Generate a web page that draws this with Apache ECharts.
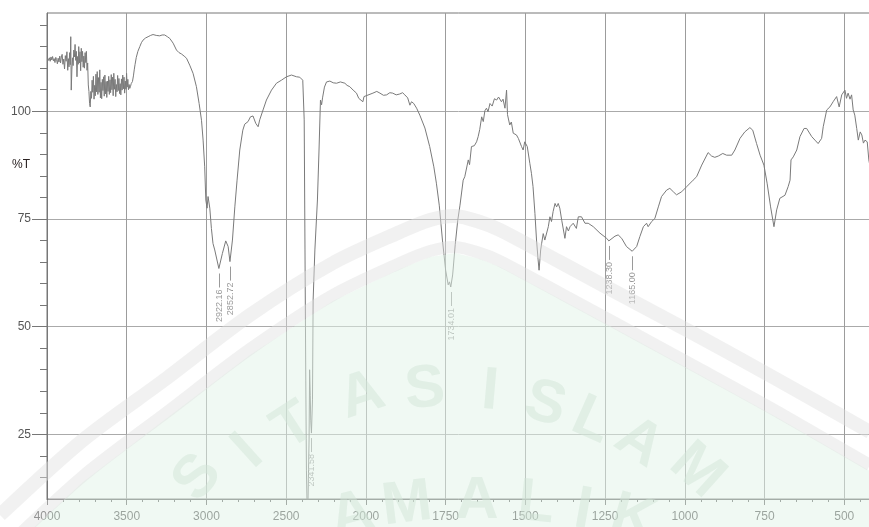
<!DOCTYPE html>
<html>
<head>
<meta charset="utf-8">
<title>FTIR spectrum</title>
<script src="https://cdn.jsdelivr.net/npm/echarts@6/dist/echarts.min.js"></script>
<style>
  html, body { margin: 0; padding: 0; background: #ffffff; }
  #chart { width: 869px; height: 527px; }
</style>
</head>
<body>
<div id="chart"></div>
<script>
// Spectrum: wavenumber (cm-1) and transmittance (%T)
const WAVENUMBER = [
  3996, 3990, 3985, 3980, 3975, 3970, 3965, 3960, 3955, 3950, 3945, 3940, 3935, 3930, 3925, 3920,
  3915, 3910, 3905, 3900, 3895, 3890, 3885, 3880, 3875, 3870, 3866, 3862, 3858, 3854, 3851, 3848,
  3844, 3840, 3836, 3832, 3828, 3824, 3820, 3816, 3812, 3808, 3804, 3801, 3797, 3793, 3789, 3785,
  3781, 3777, 3773, 3769, 3765, 3761, 3757, 3753, 3749, 3745, 3741, 3737, 3733, 3729, 3725, 3721,
  3717, 3713, 3709, 3705, 3701, 3697, 3693, 3689, 3685, 3681, 3677, 3673, 3669, 3665, 3661, 3657,
  3653, 3649, 3645, 3641, 3637, 3633, 3629, 3625, 3621, 3617, 3613, 3609, 3605, 3601, 3597, 3593,
  3589, 3585, 3581, 3577, 3573, 3569, 3565, 3561, 3557, 3553, 3549, 3545, 3541, 3537, 3533, 3529,
  3525, 3521, 3517, 3513, 3509, 3505, 3501, 3497, 3493, 3489, 3485, 3481, 3476, 3472, 3468, 3464,
  3458, 3453, 3448, 3440, 3430, 3418, 3408, 3398, 3382, 3366, 3350, 3335, 3315, 3293, 3278, 3262,
  3245, 3230, 3209, 3188, 3172, 3157, 3140, 3125, 3105, 3084, 3063, 3046, 3031, 3021, 3011, 3004,
  2996, 2990, 2979, 2969, 2959, 2948, 2937, 2922.16, 2900, 2879, 2864, 2852.72, 2837, 2822, 2808, 2791,
  2772, 2760, 2739, 2724, 2708, 2691, 2676, 2666, 2645, 2624, 2592, 2561, 2530, 2498, 2467, 2435,
  2415, 2396, 2387, 2382, 2377, 2373, 2369, 2363, 2356.5, 2353, 2349, 2346, 2341.58, 2335, 2331, 2320,
  2304, 2294, 2285, 2278, 2272, 2260, 2247, 2226, 2205, 2184, 2160, 2132, 2118, 2101, 2080, 2059,
  2045, 2038, 2019, 2012, 2000, 1978, 1966, 1956, 1945, 1935, 1925, 1916, 1905, 1894, 1885, 1878,
  1869, 1862, 1857, 1850, 1841, 1831, 1815, 1800, 1787, 1779, 1770, 1760, 1750, 1742, 1738, 1734.01,
  1728, 1720, 1712, 1705, 1695, 1690, 1679, 1675, 1669, 1660, 1653, 1648, 1643, 1637, 1632, 1627,
  1622, 1617, 1611, 1604, 1597, 1590, 1584, 1575, 1570, 1564, 1559, 1556, 1549, 1544, 1538, 1528,
  1522, 1517, 1512, 1507, 1502, 1494, 1486, 1481, 1476, 1470, 1465, 1460, 1457, 1452, 1449, 1444,
  1439, 1428, 1423, 1418, 1413, 1407, 1402, 1397, 1392, 1386, 1376, 1371, 1365, 1360, 1350, 1340,
  1334, 1324, 1313, 1303, 1287, 1266, 1245, 1238.30, 1219, 1209, 1198, 1183, 1165, 1151, 1141, 1130,
  1120, 1115, 1104, 1094, 1083, 1073, 1057, 1047, 1036, 1026, 1010, 994, 974, 963, 947, 927,
  916, 906, 895, 881, 869, 853, 843, 827, 812, 796, 787, 775, 764, 752, 742, 731,
  720.5, 712, 702, 686, 676, 670, 667, 660, 649, 639, 626, 618, 602, 592, 582, 571,
  566, 555, 545, 535, 524, 516, 508, 498, 493, 488, 482, 477, 472, 467, 461, 456,
  450, 445, 440, 435, 428, 423, 420
];
const TRANSMITTANCE = [
  112.3, 111.8, 112.4, 111.6, 112.6, 111.9, 112.7, 111.7, 112.2, 111.3, 112.5, 112.0, 111.0, 112.3, 111.4, 112.8,
  111.2, 112.6, 113.2, 110.9, 112.1, 109.8, 112.9, 111.6, 113.8, 109.5, 112.2, 110.3, 113.6, 110.8, 117.3, 104.9,
  109.6, 112.4, 110.6, 114.2, 112.6, 115.5, 111.8, 113.9, 108.0, 112.7, 110.9, 115.0, 111.2, 113.8, 109.4, 114.6,
  111.5, 113.9, 110.2, 112.8, 110.0, 113.6, 111.3, 113.9, 109.5, 111.2, 106.1, 104.6, 101.8, 101.0, 104.6, 103.0,
  107.2, 104.4, 108.1, 102.8, 106.0, 103.6, 108.6, 104.5, 109.2, 103.9, 107.8, 104.4, 109.6, 103.1, 106.7, 102.9,
  107.4, 104.8, 108.0, 103.5, 108.4, 104.0, 106.9, 103.2, 107.0, 104.6, 108.1, 103.9, 107.3, 104.3, 108.5, 105.0,
  107.9, 103.6, 108.8, 105.1, 107.4, 103.4, 106.2, 104.5, 108.3, 104.8, 107.6, 104.1, 106.4, 103.8, 107.5, 104.9,
  108.4, 105.2, 107.9, 104.2, 107.0, 105.1, 108.8, 105.6, 107.4, 105.0, 106.2, 105.3, 105.8, 106.4, 106.0, 106.9,
  108.2, 109.6, 110.8, 112.5, 113.9, 115.0, 115.9, 116.5, 117.0, 117.3, 117.6, 117.8, 117.6, 117.5, 117.7, 117.7,
  117.3, 116.9, 115.8, 114.2, 113.6, 113.3, 112.8, 112.3, 110.7, 108.8, 105.7, 101.8, 97.9, 93.3, 87.1, 79.4,
  77.5, 80.2, 77.5, 72.8, 69.3, 67.8, 67.4, 63.5, 67.0, 69.9, 68.6, 65.1, 70.1, 77.8, 84.0, 91.0,
  95.6, 97.0, 97.6, 98.7, 98.9, 97.2, 96.4, 98.0, 100.3, 102.6, 104.9, 106.5, 107.2, 108.0, 108.4, 108.0,
  107.9, 107.2, 98.0, 67.8, 37.6, 16.7, 8.6, 9.8, 23.7, 40.0, 34.1, 28.3, 25.3, 33.0, 56.2, 67.8,
  79.4, 91.0, 102.6, 101.5, 103.1, 105.6, 106.8, 107.0, 106.6, 106.5, 106.8, 106.5, 106.0, 105.7, 104.9, 104.2,
  103.0, 102.6, 102.2, 103.4, 103.8, 104.2, 104.6, 104.2, 103.7, 103.8, 104.3, 104.2, 103.8, 104.0, 104.3, 103.8,
  103.1, 101.4, 102.2, 101.8, 100.7, 99.1, 96.1, 91.8, 87.1, 83.3, 78.2, 70.1, 63.1, 59.7, 60.4, 59.2,
  62.0, 69.0, 74.7, 78.2, 84.0, 84.8, 88.7, 87.6, 91.8, 92.0, 92.9, 94.1, 95.8, 98.7, 97.6, 100.1,
  100.7, 99.9, 101.8, 101.2, 102.9, 102.6, 103.3, 102.2, 102.8, 100.7, 104.9, 99.2, 96.8, 97.5, 94.9, 94.5,
  93.7, 93.7, 91.8, 91.0, 92.9, 91.8, 87.9, 85.6, 82.5, 76.3, 70.1, 65.5, 63.1, 67.8, 69.3, 71.6,
  70.1, 73.2, 75.5, 74.4, 76.7, 78.6, 77.8, 78.6, 77.5, 74.7, 70.5, 73.2, 72.2, 73.2, 74.0, 72.8,
  75.5, 75.5, 74.0, 74.0, 73.2, 71.7, 70.5, 69.9, 71.0, 71.3, 70.5, 68.6, 67.5, 68.6, 70.9, 73.2,
  74.0, 73.2, 74.4, 75.1, 77.8, 80.2, 81.7, 82.1, 81.3, 80.6, 81.3, 82.5, 84.0, 84.8, 87.5, 90.4,
  89.6, 89.3, 89.6, 90.2, 89.8, 89.8, 91.0, 93.7, 95.2, 96.2, 95.6, 92.5, 89.8, 87.5, 83.3, 77.8,
  73.2, 77.1, 79.8, 80.5, 82.5, 84.0, 88.7, 89.4, 91.0, 94.1, 96.0, 96.0, 94.1, 93.3, 92.5, 93.7,
  96.4, 100.3, 101.0, 102.2, 103.4, 101.0, 103.8, 104.9, 103.0, 104.2, 102.8, 103.8, 100.3, 99.1, 96.0, 93.3,
  95.2, 94.5, 92.6, 93.3, 92.9, 88.7, 87.5
];

// Annotated absorption peaks
const PEAK_WAVENUMBER = [2922.16, 2852.72, 2341.58, 1734.01, 1238.30, 1165.00];
const PEAK_TRANSMITTANCE = [63.5, 65.1, 25.3, 59.2, 69.9, 67.5];

// Axis tick labels
const X_TICK_LABELS = [4000, 3500, 3000, 2500, 2000, 1750, 1500, 1250, 1000, 750, 500];
const Y_TICK_LABELS = [25, 50, 75, 100];
const Y_MINOR_TICKS = [15, 20, 30, 35, 40, 45, 55, 60, 65, 70, 80, 85, 90, 95, 105, 110, 115, 120];

// The wavenumber axis is linear from 4000 to 2000 and expanded twofold below 2000.
function toAxis(w) { return w >= 2000 ? 4000 - w : 2000 + 2 * (2000 - w); }
function fromAxis(u) { return u <= 2000 ? 4000 - u : 2000 - (u - 2000) / 2; }

const FONT = '"Liberation Sans", Arial, sans-serif';

// University emblem printed faintly across the lower part of the plot
const EMBLEM_OUTER = [[0,515],[83,440],[167,378],[250,315],[333,263],[400,232],[430,220],[455,216],
  [480,222],[500,230],[560,262],[610,289],[700,337],[778,380],[870,432]];
const EMBLEM_INNER = [[0,553],[83,476],[167,412],[250,349],[333,295],[400,263],[430,251],[455,247],
  [480,253],[500,261],[560,293],[610,320],[700,369],[778,412],[870,465]];
const EMBLEM_LETTERS = [
  ['S', 198, 478, 50], ['I', 248, 452, 42], ['T', 294, 427, 33], ['A', 362, 396, 18], ['S', 425, 390, 5],
  ['I', 490, 392, -5], ['S', 545, 405, -15], ['L', 592, 421, -24], ['A', 639, 443, -33], ['M', 697, 471, -42],
  ['A', 352, 516, 14], ['M', 407, 505, 7], ['A', 477, 501, 0], ['L', 536, 504, -6], ['I', 583, 511, -10], ['K', 633, 519, -16]
];

function emblemGraphics() {
  const fillPts = EMBLEM_INNER.map(p => [p[0], p[1] + 6]).concat([[870, 530], [0, 530]]);
  const els = [
    { type: 'polygon', silent: true, z: 50, shape: { points: fillPts },
      style: { fill: 'rgba(226,243,232,0.5)' } },
    { type: 'polyline', silent: true, z: 51, shape: { points: EMBLEM_OUTER, smooth: 0.3 },
      style: { stroke: 'rgba(225,225,225,0.45)', lineWidth: 14, fill: null } },
    { type: 'polyline', silent: true, z: 51, shape: { points: EMBLEM_INNER, smooth: 0.3 },
      style: { stroke: 'rgba(225,225,225,0.45)', lineWidth: 12, fill: null } }
  ];
  EMBLEM_LETTERS.forEach(l => {
    els.push({ type: 'text', silent: true, z: 52, x: l[1], y: l[2], rotation: l[3] * Math.PI / 180,
      style: { text: l[0], font: 'bold 60px ' + FONT, fill: 'rgba(210,229,216,0.5)', align: 'center', verticalAlign: 'middle' } });
  });
  els.push({ type: 'text', silent: true, z: 60, x: 21, y: 165,
    style: { text: '%T', font: '12px ' + FONT, fill: '#2b2222', align: 'center', verticalAlign: 'middle' } });
  return els;
}

const chart = echarts.init(document.getElementById('chart'), null, { renderer: 'canvas' });

chart.setOption({
  animation: false,
  backgroundColor: '#ffffff',
  grid: {
    left: 47, top: 13, width: 877, height: 486,
    outerBoundsMode: 'none', containLabel: false,
    show: true, borderColor: '#777', borderWidth: 1, backgroundColor: 'transparent'
  },
  xAxis: {
    type: 'value', min: 0, max: 5500, interval: 500,
    axisLine: { show: true, onZero: false, lineStyle: { color: '#666', width: 1 } },
    axisTick: { show: true, length: 6, lineStyle: { color: '#666' } },
    minorTick: { show: true, splitNumber: 5, length: 3, lineStyle: { color: '#666' } },
    axisLabel: {
      customValues: X_TICK_LABELS.map(toAxis),
      formatter: v => String(Math.round(fromAxis(v))),
      color: '#555', fontSize: 12, fontFamily: FONT, margin: 12
    },
    splitLine: { show: true, lineStyle: { color: '#9c9c9c', width: 1 } }
  },
  yAxis: [
    {
      type: 'value', min: 10, max: 122.8, position: 'left',
      axisLine: { show: true, onZero: false, lineStyle: { color: '#777', width: 1 } },
      axisTick: { show: true, length: 7, customValues: Y_MINOR_TICKS, lineStyle: { color: '#777' } },
      axisLabel: { show: false },
      splitLine: { show: false }
    },
    {
      type: 'value', min: 10, max: 122.8, position: 'left',
      axisLine: { show: false },
      axisTick: { show: true, length: 15, customValues: Y_TICK_LABELS, lineStyle: { color: '#777' } },
      axisLabel: { customValues: Y_TICK_LABELS, color: '#555', fontSize: 12, fontFamily: FONT, margin: 16 },
      splitLine: { show: true, lineStyle: { color: '#aaaaaa', width: 1 } }
    }
  ],
  series: [
    {
      type: 'line', xAxisIndex: 0, yAxisIndex: 0, showSymbol: false, symbol: 'none', z: 3,
      lineStyle: { color: '#7a7a7a', width: 1 },
      data: WAVENUMBER.map((w, i) => [toAxis(w), TRANSMITTANCE[i]])
    },
    {
      type: 'custom', xAxisIndex: 0, yAxisIndex: 0, silent: true, clip: false, z: 4,
      data: PEAK_WAVENUMBER.map((w, i) => [toAxis(w), PEAK_TRANSMITTANCE[i]]),
      renderItem: function (params, api) {
        const p = api.coord([api.value(0), api.value(1)]);
        const x = Math.round(p[0]) + 0.5;
        return {
          type: 'group',
          children: [
            { type: 'line', shape: { x1: x, y1: p[1] + 5, x2: x, y2: p[1] + 19 },
              style: { stroke: '#9a9a9a', lineWidth: 1 } },
            { type: 'text', x: x + 0.5, y: p[1] + 21, rotation: Math.PI / 2,
              style: { text: PEAK_WAVENUMBER[params.dataIndex].toFixed(2), fill: '#9a9a9a',
                       font: '9px ' + FONT, align: 'right', verticalAlign: 'middle' } }
          ]
        };
      }
    }
  ],
  graphic: { elements: emblemGraphics() }
});
</script>
</body>
</html>
